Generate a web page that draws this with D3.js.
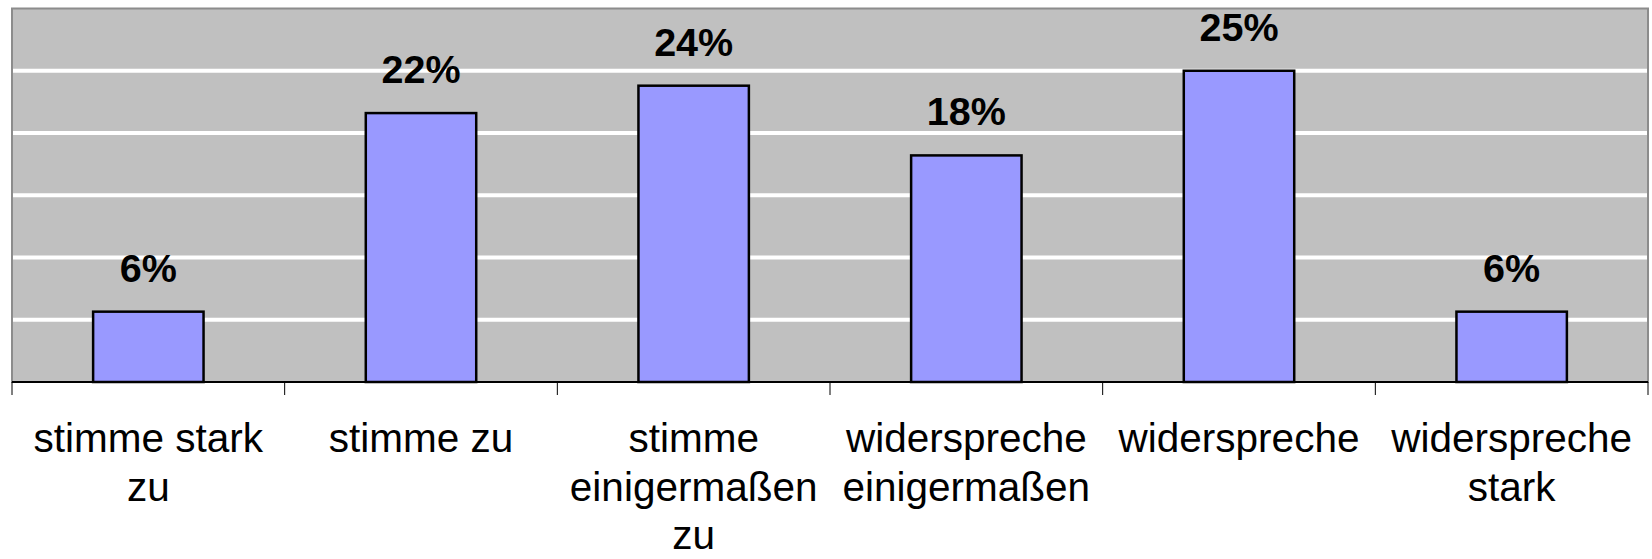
<!DOCTYPE html>
<html>
<head>
<meta charset="utf-8">
<script src="https://cdn.jsdelivr.net/npm/d3@7"></script>
<style>
  html, body { margin: 0; padding: 0; background: #fff; }
  svg { display: block; }
</style>
</head>
<body>
<svg id="chart" width="1652" height="559"></svg>
<script>
const categories = [
  "stimme stark zu",
  "stimme zu",
  "stimme einigermaßen zu",
  "widerspreche einigermaßen",
  "widerspreche",
  "widerspreche stark"
];
const categoryLines = [
  ["stimme stark", "zu"],
  ["stimme zu"],
  ["stimme", "einigermaßen", "zu"],
  ["widerspreche", "einigermaßen"],
  ["widerspreche"],
  ["widerspreche", "stark"]
];
const values = [0.0565, 0.216, 0.238, 0.182, 0.250, 0.0565];
const gridTicks = [0.05, 0.10, 0.15, 0.20, 0.25];

const svg = d3.select("#chart");
const plot = { left: 12, right: 1648, top: 8.5, bottom: 382 };

const x = d3.scaleBand()
  .domain(categories)
  .range([plot.left, plot.right])
  .paddingInner(0.595)
  .paddingOuter(0.2975);

const y = d3.scaleLinear()
  .domain([0, 0.30])
  .range([plot.bottom, plot.top]);

// plot background
svg.append("rect")
  .attr("x", plot.left).attr("y", plot.top)
  .attr("width", plot.right - plot.left)
  .attr("height", plot.bottom - plot.top)
  .attr("fill", "#c0c0c0")
  .attr("stroke", "#8c8c8c")
  .attr("stroke-width", 2);

// gridlines
svg.append("g")
  .selectAll("line")
  .data(gridTicks)
  .join("line")
  .attr("x1", plot.left + 1).attr("x2", plot.right - 1)
  .attr("y1", d => y(d)).attr("y2", d => y(d))
  .attr("stroke", "#ffffff")
  .attr("stroke-width", 4);

// bars
svg.append("g")
  .selectAll("rect")
  .data(values)
  .join("rect")
  .attr("x", (d, i) => x(categories[i]))
  .attr("y", d => y(d))
  .attr("width", x.bandwidth())
  .attr("height", d => y(0) - y(d))
  .attr("fill", "#9999ff")
  .attr("stroke", "#000")
  .attr("stroke-width", 2.5);

// value labels
const fmt = d3.format(".0%");
svg.append("g")
  .selectAll("text")
  .data(values)
  .join("text")
  .attr("x", (d, i) => x(categories[i]) + x.bandwidth() / 2)
  .attr("y", d => y(d) - 30)
  .attr("text-anchor", "middle")
  .attr("font-family", "'Liberation Sans', Arial, sans-serif")
  .attr("font-weight", "bold")
  .attr("font-size", 39.5)
  .attr("fill", "#000")
  .text(d => fmt(d));

// x axis line
const xAxis = d3.axisBottom(x).tickSize(0).tickFormat("");
const axisG = svg.append("g")
  .attr("transform", `translate(0,${plot.bottom})`)
  .call(xAxis);
axisG.select(".domain").attr("stroke", "#000").attr("stroke-width", 2).attr("d", `M${plot.left},0H${plot.right}`);

// boundary ticks
const boundaries = d3.range(categories.length + 1).map(i => plot.left + i * x.step());
svg.append("g")
  .selectAll("line")
  .data(boundaries)
  .join("line")
  .attr("x1", d => d).attr("x2", d => d)
  .attr("y1", plot.bottom).attr("y2", plot.bottom + 13)
  .attr("stroke", "#000")
  .attr("stroke-width", 1);

// category labels
const labelG = svg.append("g")
  .attr("font-family", "'Liberation Sans', Arial, sans-serif")
  .attr("font-size", 40.5)
  .attr("fill", "#000")
  .attr("text-anchor", "middle");
categories.forEach((c, i) => {
  const t = labelG.append("text")
    .attr("x", x(c) + x.bandwidth() / 2)
    .attr("y", 452);
  categoryLines[i].forEach((line, j) => {
    t.append("tspan")
      .attr("x", x(c) + x.bandwidth() / 2)
      .attr("dy", j === 0 ? 0 : 48.5)
      .text(line);
  });
});
</script>
</body>
</html>
